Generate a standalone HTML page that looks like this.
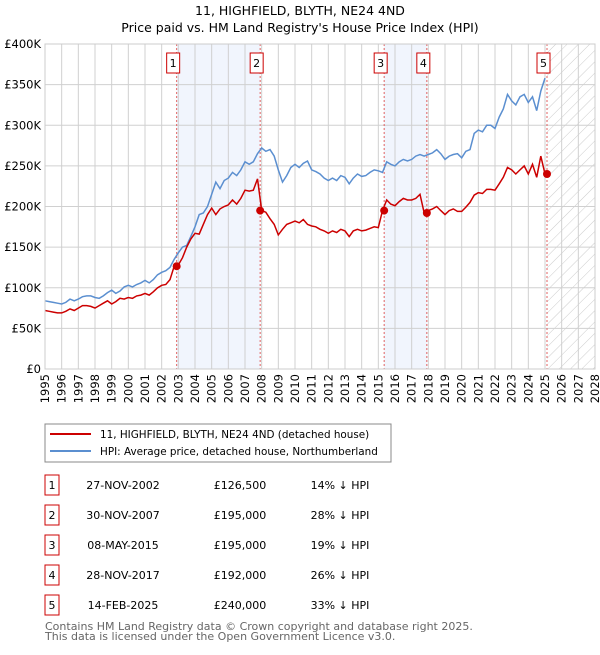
<!DOCTYPE html>
<html><head><meta charset="utf-8"><style>
body{margin:0;background:#fff;font-family:"Liberation Sans","DejaVu Sans",sans-serif;}
svg text{font-family:"DejaVu Sans","Liberation Sans",sans-serif;}
</style></head><body>
<svg id="c" width="600" height="650" viewBox="0 0 600 650">
<defs><pattern id="hatch" width="8" height="8" patternUnits="userSpaceOnUse" patternTransform="rotate(45)"><line x1="0" y1="0" x2="0" y2="8" stroke="#ccc" stroke-width="1"/></pattern></defs>
<text x="300" y="15" text-anchor="middle" font-size="12.5">11, HIGHFIELD, BLYTH, NE24 4ND</text>
<text x="300" y="32" text-anchor="middle" font-size="12.5">Price paid vs. HM Land Registry's House Price Index (HPI)</text>
<g id="plot"></g>
<rect x="45" y="424" width="346" height="38" fill="#fff" stroke="#888"/>
<line x1="50" y1="434" x2="91" y2="434" stroke="#cc0000" stroke-width="2"/>
<text x="100" y="438" font-size="10.4">11, HIGHFIELD, BLYTH, NE24 4ND (detached house)</text>
<line x1="50" y1="451" x2="91" y2="451" stroke="#5b8fd0" stroke-width="2"/>
<text x="100" y="455" font-size="10.4">HPI: Average price, detached house, Northumberland</text>
<g id="table" font-size="11"></g>
<text x="45" y="630" font-size="11" fill="#666">Contains HM Land Registry data © Crown copyright and database right 2025.</text>
<text x="45" y="640" font-size="11" fill="#666">This data is licensed under the Open Government Licence v3.0.</text>
</svg>
<script>
const hpiValues=[84,83,82,81,80,82,86,84,86,89,90,90,88,87,90,94,97,93,96,101,103,101,104,106,109,106,110,116,119,121,125,135,143,150,152,163,175,190,192,200,215,230,222,232,235,242,238,245,255,252,255,265,272,268,270,262,245,230,238,248,252,248,253,256,245,243,240,235,232,235,232,238,236,228,235,240,237,238,242,245,244,242,255,252,250,255,258,256,258,262,264,262,264,266,270,265,258,262,264,265,260,268,270,290,294,292,300,300,296,310,320,338,330,325,335,338,328,335,318,342,358];
const priceValues=[72,71,70,69,69,71,74,72,75,78,78,77,75,78,81,84,80,83,87,86,88,87,90,91,93,91,95,100,103,104,110,126.5,128,137,150,160,167,166,178,190,198,190,197,200,202,208,203,210,220,219,220,234,195,193,185,178,165,172,178,180,182,180,184,178,176,175,172,170,167,170,168,172,170,163,170,172,170,171,173,175,174,195,208,203,201,206,210,208,208,210,215,192,195,197,200,195,190,195,197,194,194,199,205,214,217,216,221,221,220,228,236,248,245,240,245,250,240,252,236,262,240];
const saleDates=[2002.9,2007.91,2015.35,2017.91,2025.12];
const salePrices=[126.5,195,195,192,240];
const saleLabels=["1","2","3","4","5"];
const saleDateText=["27-NOV-2002","30-NOV-2007","08-MAY-2015","28-NOV-2017","14-FEB-2025"];
const salePriceText=["£126,500","£195,000","£195,000","£192,000","£240,000"];
const saleHpiText=["14% ↓ HPI","28% ↓ HPI","19% ↓ HPI","26% ↓ HPI","33% ↓ HPI"];
const yTicks=[0,50,100,150,200,250,300,350,400];
const yTickLabels=["£0","£50K","£100K","£150K","£200K","£250K","£300K","£350K","£400K"];
const xYears=[1995,1996,1997,1998,1999,2000,2001,2002,2003,2004,2005,2006,2007,2008,2009,2010,2011,2012,2013,2014,2015,2016,2017,2018,2019,2020,2021,2022,2023,2024,2025,2026,2027,2028];

const NS="http://www.w3.org/2000/svg";
const L=45,R=595,T=44,B=369;
const X=y=>L+(y-1995)/(2028-1995)*(R-L);
const Y=v=>B-v/400*(B-T);
const plot=document.getElementById('plot');
function mk(tag,attrs,parent){const e=document.createElementNS(NS,tag);for(const k in attrs)e.setAttribute(k,attrs[k]);(parent||plot).appendChild(e);return e;}
for(const [a,b] of [[0,1],[2,3]]){
 const r=mk('rect',{x:X(saleDates[a]),y:T,width:X(saleDates[b])-X(saleDates[a]),height:B-T,fill:'#f1f5fd'});
 
 
}
const h=mk('rect',{x:X(saleDates[4]),y:T,width:R-X(saleDates[4]),height:B-T,fill:'url(#hatch)'});


yTicks.forEach((v,i)=>{
 const g=mk('line',{x1:L,x2:R,y1:Y(v),y2:Y(v),stroke:'#d0d0d0'});
 
 
 const t=mk('text',{x:L-4,y:Y(v)+4,'text-anchor':'end','font-size':11.5});
 t.textContent=yTickLabels[i];
 
 
});
xYears.forEach(yr=>{
 const g=mk('line',{x1:X(yr),x2:X(yr),y1:T,y2:B,stroke:'#d0d0d0'});
 
 
 const t=mk('text',{x:0,y:0,'text-anchor':'end','font-size':11.5,transform:`translate(${X(yr)+4},${B+5}) rotate(-90)`});
 t.textContent=yr;
 
 
});
saleDates.forEach(d=>{
 const l=mk('line',{x1:X(d),x2:X(d),y1:T,y2:B,stroke:'#e06060','stroke-dasharray':'2,2'});
 
 
});
const pts=arr=>arr.map((v,i)=>X(1995+i*0.25).toFixed(1)+','+Y(v).toFixed(1)).join(' ');
const hl=mk('polyline',{points:pts(hpiValues),fill:'none',stroke:'#5b8fd0','stroke-width':1.5});


const pl=mk('polyline',{points:pts(priceValues),fill:'none',stroke:'#cc0000','stroke-width':1.5});


saleDates.forEach((d,i)=>{
 const c=mk('circle',{cx:X(d),cy:Y(salePrices[i]),r:4,fill:'#cc0000'});
 
 
 const bx=X(d)-10;
 const r=mk('rect',{x:bx,y:53,width:13,height:20,fill:'#fff',stroke:'#cc0000'});
 
 
 const t=mk('text',{x:bx+6.5,y:67,'text-anchor':'middle','font-size':11});
 t.textContent=saleLabels[i];
 
 
});
const axis=mk('rect',{x:L,y:T,width:R-L,height:B-T,fill:'none',stroke:'#ccc'});


const tb=document.getElementById('table');
saleLabels.forEach((lab,i)=>{
 const y=476+i*30;
 const r=mk('rect',{x:45,y:y-1,width:14,height:20,fill:'#fff',stroke:'#cc0000'},tb);
 
 
 const cells=[[52,lab],[123,saleDateText[i]],[240,salePriceText[i]],[340,saleHpiText[i]]];
 cells.forEach(([x,s])=>{
  const t=mk('text',{x:x,y:y+13,'text-anchor':'middle'},tb);
  t.textContent=s;
  
  
 });
});
</script>
</body></html>
